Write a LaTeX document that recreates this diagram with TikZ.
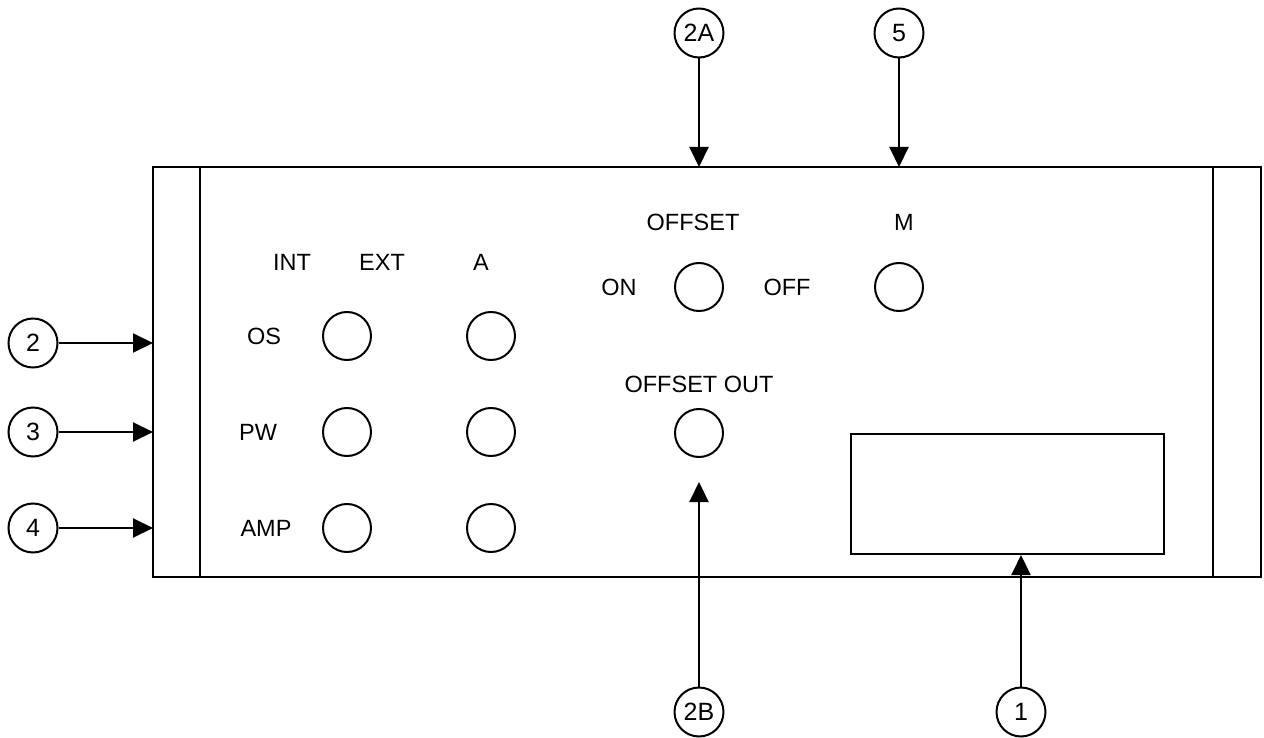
\documentclass[tikz,border=0pt]{standalone}
\usepackage{fontspec}
\setmainfont{Liberation Sans}
\usetikzlibrary{arrows.meta}
\begin{document}
\begin{tikzpicture}[x=1pt,y=-1pt,
  every node/.style={font=\fontsize{23.5}{28}\selectfont},
  lbl/.style={inner sep=0pt},
  knob/.style={draw,circle,line width=2pt,minimum size=48pt,inner sep=0pt},
  callout/.style={draw,circle,line width=2pt,minimum size=49pt,inner sep=0pt,font=\fontsize{25}{30}\selectfont},
  arr/.style={line width=2pt,-{Triangle[length=20pt,width=19pt]}},
  panel/.style={line width=2.2pt}]
\useasboundingbox (0,0) rectangle (1264,738);
% panel outline
\draw[panel] (153,167) rectangle (1261,577);
\draw[panel] (200,167) -- (200,577);
\draw[panel] (1213,167) -- (1213,577);
% display
\draw[panel] (851,434) rectangle (1164,554);
% labels left block
\node[lbl] (int) at (292,262) {INT};
\node[lbl] (ext) at (382,262) {EXT};
\node[lbl] (a) at (481,262) {A};
\node[lbl] (os) at (264,336) {OS};
\node[lbl] (pw) at (258,432) {PW};
\node[lbl] (amp) at (266,528) {AMP};
\node[knob] (k11) at (347,336) {};
\node[knob] (k12) at (491,336) {};
\node[knob] (k21) at (347,432) {};
\node[knob] (k22) at (491,432) {};
\node[knob] (k31) at (347,528) {};
\node[knob] (k32) at (491,528) {};
% offset block
\node[lbl] (offset) at (693,222) {OFFSET};
\node[lbl] (m) at (904,222) {M};
\node[lbl] (on) at (619,287) {ON};
\node[knob] (kon) at (699,287) {};
\node[lbl] (off) at (787,287) {OFF};
\node[knob] (km) at (899,287) {};
\node[lbl] (oo) at (699,384) {OFFSET OUT};
\node[knob] (koo) at (699,433) {};
% callouts
\node[callout] (c2) at (33,343) {2};
\node[callout] (c3) at (33,432) {3};
\node[callout] (c4) at (33,528) {4};
\node[callout] (c2a) at (699,33) {2A};
\node[callout] (c5) at (899,33) {5};
\node[callout] (c2b) at (699,712) {2B};
\node[callout] (c1) at (1021,712) {1};
% arrow targets
\coordinate (t2) at (153,343);
\coordinate (t3) at (153,432);
\coordinate (t4) at (153,528);
\coordinate (t2a) at (699,167);
\coordinate (t5) at (899,167);
\coordinate (t2b) at (699,482);
\coordinate (t1) at (1021,555);
\draw[arr] (c2) -- (t2);
\draw[arr] (c3) -- (t3);
\draw[arr] (c4) -- (t4);
\draw[arr] (c2a) -- (t2a);
\draw[arr] (c5) -- (t5);
\draw[arr] (c2b) -- (t2b);
\draw[arr] (c1) -- (t1);
\end{tikzpicture}
\end{document}
